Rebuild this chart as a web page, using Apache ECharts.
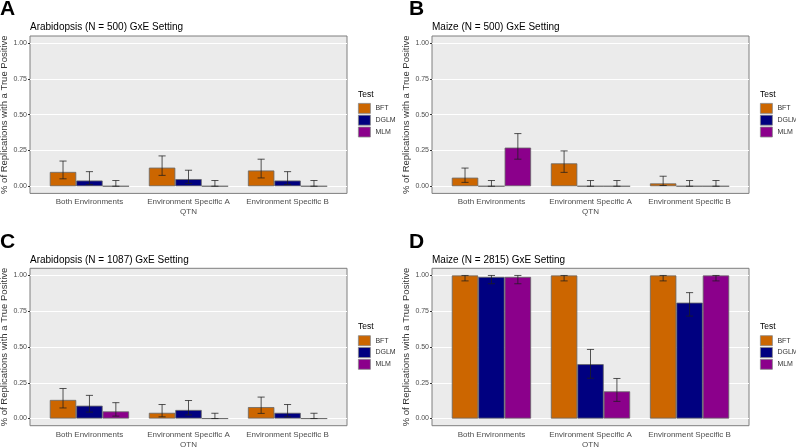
<!DOCTYPE html>
<html><head><meta charset="utf-8">
<script src="https://cdn.jsdelivr.net/npm/echarts@6/dist/echarts.min.js"></script>
<style>html,body{margin:0;padding:0;background:#fff}#c{width:796px;height:447px}</style>
</head><body><div id="c"></div>
<script>
// ---------- data ----------
const categories = ['Both Environments', 'Environment Specific A\nQTN', 'Environment Specific B'];
const tests = ['BFT', 'DGLM', 'MLM'];
const yTicks = [0, 0.25, 0.5, 0.75, 1];
const panelLetters = ['A', 'B', 'C', 'D'];
const panelTitles = [
  'Arabidopsis (N = 500) GxE Setting',
  'Maize (N = 500) GxE Setting',
  'Arabidopsis (N = 1087) GxE Setting',
  'Maize (N = 2815) GxE Setting'
];
const legendTitle = 'Test';
const yAxisTitle = '% of Replications with a True Positive';

// Panel A: Arabidopsis N=500
const arab500BFT = [0.10, 0.13, 0.11];
const arab500BFTlo = [0.052, 0.076, 0.058];
const arab500BFThi = [0.176, 0.212, 0.189];
const arab500DGLM = [0.04, 0.05, 0.04];
const arab500DGLMlo = [0.012, 0.02, 0.012];
const arab500DGLMhi = [0.102, 0.112, 0.102];
const arab500MLM = [0, 0, 0];
const arab500MLMlo = [0, 0, 0];
const arab500MLMhi = [0.04, 0.04, 0.04];

// Panel B: Maize N=500
const maize500BFT = [0.06, 0.16, 0.02];
const maize500BFTlo = [0.027, 0.097, 0.005];
const maize500BFThi = [0.127, 0.247, 0.07];
const maize500DGLM = [0, 0, 0];
const maize500DGLMlo = [0, 0, 0];
const maize500DGLMhi = [0.04, 0.04, 0.04];
const maize500MLM = [0.27, 0, 0];
const maize500MLMlo = [0.189, 0, 0];
const maize500MLMhi = [0.368, 0.04, 0.04];

// Panel C: Arabidopsis N=1087
const arab1087BFT = [0.13, 0.04, 0.08];
const arab1087BFTlo = [0.074, 0.012, 0.036];
const arab1087BFThi = [0.21, 0.098, 0.15];
const arab1087DGLM = [0.09, 0.06, 0.04];
const arab1087DGLMlo = [0.045, 0.025, 0.012];
const arab1087DGLMhi = [0.162, 0.126, 0.098];
const arab1087MLM = [0.05, 0, 0];
const arab1087MLMlo = [0.017, 0, 0];
const arab1087MLMhi = [0.111, 0.037, 0.037];

// Panel D: Maize N=2815
const maize2815BFT = [1.0, 1.0, 1.0];
const maize2815BFTlo = [0.962, 0.962, 0.962];
const maize2815BFThi = [1.0, 1.0, 1.0];
const maize2815DGLM = [0.99, 0.38, 0.81];
const maize2815DGLMlo = [0.942, 0.282, 0.716];
const maize2815DGLMhi = [1.0, 0.483, 0.88];
const maize2815MLM = [0.99, 0.19, 1.0];
const maize2815MLMlo = [0.942, 0.12, 0.962];
const maize2815MLMhi = [1.0, 0.28, 1.0];

const panelData = [
  {vals: [arab500BFT, arab500DGLM, arab500MLM], lo: [arab500BFTlo, arab500DGLMlo, arab500MLMlo], hi: [arab500BFThi, arab500DGLMhi, arab500MLMhi]},
  {vals: [maize500BFT, maize500DGLM, maize500MLM], lo: [maize500BFTlo, maize500DGLMlo, maize500MLMlo], hi: [maize500BFThi, maize500DGLMhi, maize500MLMhi]},
  {vals: [arab1087BFT, arab1087DGLM, arab1087MLM], lo: [arab1087BFTlo, arab1087DGLMlo, arab1087MLMlo], hi: [arab1087BFThi, arab1087DGLMhi, arab1087MLMhi]},
  {vals: [maize2815BFT, maize2815DGLM, maize2815MLM], lo: [maize2815BFTlo, maize2815DGLMlo, maize2815MLMlo], hi: [maize2815BFThi, maize2815DGLMhi, maize2815MLMhi]}
];

// ---------- styling / layout ----------
const colors = ['#CC6600', '#000080', '#8B008B'];
const FONT = '"Liberation Sans", Arial, sans-serif';
const panelW = 317, panelH = 157.4;
const panelOrigins = [[30, 36], [432, 36], [30, 268.3], [432, 268.3]];
const yExp = 0.05, xExp = 0.6, nCat = 3;

const grid = [], xAxis = [], yAxis = [], series = [], title = [], legend = [];

panelOrigins.forEach(function (o, p) {
  const left = o[0], top = o[1];
  const unitY = panelH / (1 + 2 * yExp);
  const unitX = panelW / (nCat - 1 + 2 * xExp);
  const dataTop = top + yExp * unitY;
  const dataLeft = left + (xExp - 0.5) * unitX;
  const g0 = grid.length;
  // background panel
  grid.push({left: left, top: top, width: panelW, height: panelH, show: true,
    backgroundColor: '#EBEBEB', borderColor: '#7F7F7F', borderWidth: 1,
    containLabel: false, outerBoundsMode: 'none'});
  // y-scale grid spanning full panel width
  grid.push({left: left, top: dataTop, width: panelW, height: unitY,
    containLabel: false, outerBoundsMode: 'none'});
  // data grid
  grid.push({left: dataLeft, top: dataTop, width: unitX * nCat, height: unitY,
    containLabel: false, outerBoundsMode: 'none'});

  // axes for background grid (hidden)
  xAxis.push({gridIndex: g0, type: 'value', show: false, min: 0, max: 1});
  yAxis.push({gridIndex: g0, type: 'value', show: false, min: 0, max: 1});
  // y-scale grid axes
  xAxis.push({gridIndex: g0 + 1, type: 'value', show: false, min: 0, max: 1});
  yAxis.push({gridIndex: g0 + 1, type: 'value', min: yTicks[0], max: yTicks[yTicks.length - 1],
    interval: 0.25,
    name: yAxisTitle, nameLocation: 'middle', nameGap: 20,
    nameTextStyle: {fontFamily: FONT, fontSize: 9.5, color: '#333'},
    axisLine: {show: false},
    axisTick: {show: true, length: 2, lineStyle: {color: '#333'}},
    axisLabel: {fontFamily: FONT, fontSize: 7, color: '#4D4D4D', margin: 3,
      formatter: function (v) { return v.toFixed(2); }},
    splitLine: {show: true, lineStyle: {color: '#FFFFFF', width: 1}}});
  // data grid axes
  const xi = xAxis.length, yi = yAxis.length;
  xAxis.push({gridIndex: g0 + 2, type: 'category', data: categories,
    axisLine: {show: false}, axisTick: {show: false},
    axisLabel: {fontFamily: FONT, fontSize: 8, color: '#4D4D4D', margin: 11, lineHeight: 10,
      interval: 0}});
  yAxis.push({gridIndex: g0 + 2, type: 'value', show: false, min: 0, max: 1});

  tests.forEach(function (t, s) {
    series.push({type: 'bar', name: t, xAxisIndex: xi, yAxisIndex: yi,
      data: panelData[p].vals[s], barGap: 0, barCategoryGap: '20%',
      itemStyle: {color: colors[s], borderColor: '#666666', borderWidth: 0.8},
      silent: true, animation: false});
  });
  const errData = [];
  tests.forEach(function (t, s) {
    categories.forEach(function (c, k) {
      errData.push([k, s, panelData[p].lo[s][k], panelData[p].hi[s][k]]);
    });
  });
  series.push({type: 'custom', xAxisIndex: xi, yAxisIndex: yi, data: errData, z: 5,
    encode: {x: 0, y: [2, 3]}, silent: true, animation: false,
    renderItem: function (params, api) {
      const k = api.value(0), s = api.value(1), lo = api.value(2), hi = api.value(3);
      const band = api.size([1, 0])[0];
      const bw = band * 0.8 / 3;
      const cx = api.coord([k, 0])[0] + (s - 1) * bw;
      const yLo = api.coord([k, lo])[1];
      const yHi = api.coord([k, hi])[1];
      const hw = bw * 0.135;
      const st = {stroke: 'rgba(30,30,30,0.75)', lineWidth: 1};
      return {type: 'group', children: [
        {type: 'line', shape: {x1: cx, y1: yLo, x2: cx, y2: yHi}, style: st},
        {type: 'line', shape: {x1: cx - hw, y1: yHi, x2: cx + hw, y2: yHi}, style: st},
        {type: 'line', shape: {x1: cx - hw, y1: yLo, x2: cx + hw, y2: yLo}, style: st}
      ]};
    }});

  // panel letter
  title.push({text: panelLetters[p], left: left - (p % 2 === 0 ? 30 : 23), top: top - 37,
    padding: 0, textStyle: {fontFamily: FONT, fontSize: 21, fontWeight: 'bold', color: '#000'}});
  // panel title
  title.push({text: panelTitles[p], left: left, top: top - 13.5, padding: 0,
    textStyle: {fontFamily: FONT, fontSize: 10, fontWeight: 'normal', color: '#000'}});
  // legend title
  title.push({text: legendTitle, left: left + panelW + 11, top: top + 54, padding: 0,
    textStyle: {fontFamily: FONT, fontSize: 8.5, fontWeight: 'normal', color: '#000'}});
  legend.push({left: left + panelW + 11, top: top + 67, orient: 'vertical', padding: 0,
    itemWidth: 12, itemHeight: 10, itemGap: 1, icon: 'rect', selectedMode: false,
    data: tests,
    itemStyle: {borderColor: '#888', borderWidth: 0.8},
    textStyle: {fontFamily: FONT, fontSize: 7, color: '#333', padding: [0, 0, 0, 0]}});
});

const chart = echarts.init(document.getElementById('c'), null, {renderer: 'canvas'});
chart.setOption({animation: false, backgroundColor: '#fff', grid: grid, xAxis: xAxis, yAxis: yAxis,
  series: series, title: title, legend: legend});
</script></body></html>
